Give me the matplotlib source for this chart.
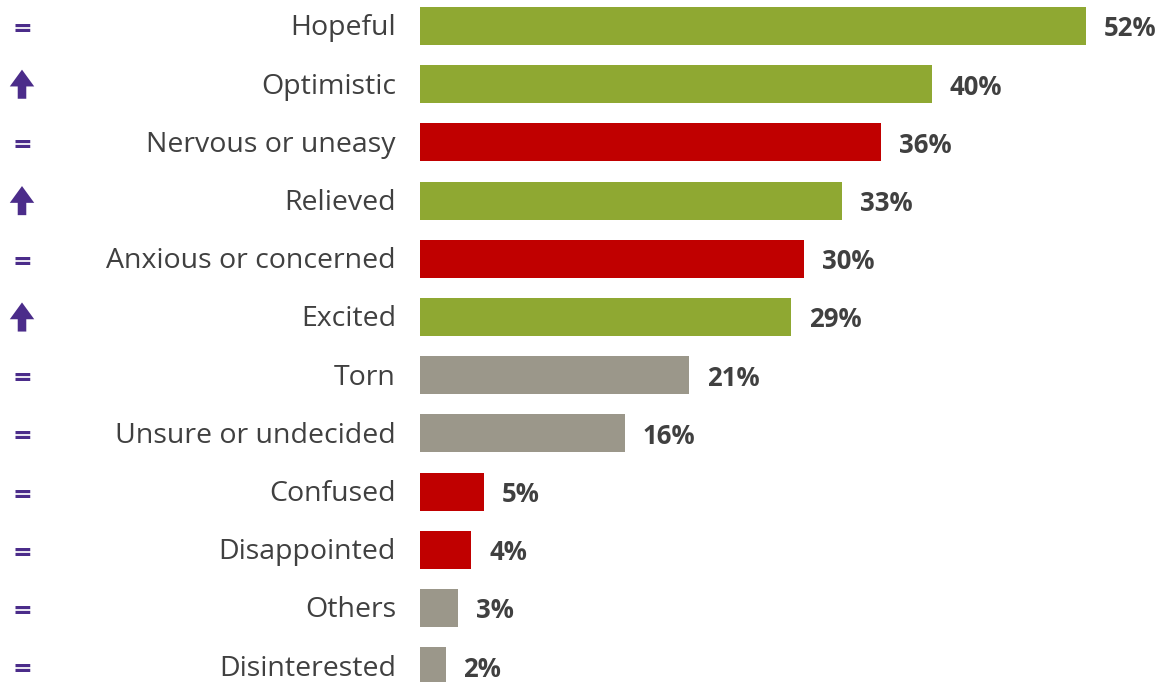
import matplotlib.pyplot as plt
from matplotlib.transforms import blended_transform_factory

# data
labels = ["Hopeful", "Optimistic", "Nervous or uneasy", "Relieved",
          "Anxious or concerned", "Excited", "Torn", "Unsure or undecided",
          "Confused", "Disappointed", "Others", "Disinterested"]
values = [52, 40, 36, 33, 30, 29, 21, 16, 5, 4, 3, 2]
tone = ["pos", "pos", "neg", "pos", "neg", "pos", "neu", "neu",
        "neg", "neg", "neu", "neu"]
trend = ["=", "up", "=", "up", "=", "up", "=", "=", "=", "=", "=", "="]

colors = {"pos": "#8FA832", "neg": "#C00000", "neu": "#9B978A"}
purple = "#4B2C8A"
txt = "#404040"

W, H = 1159, 682
fig = plt.figure(figsize=(W / 100, H / 100), dpi=100)
left = 420 / W
ax = fig.add_axes([left, 0, 1 - left, 1])

step = 58.2
top = 26
ypos = list(range(len(labels)))
ax.barh(ypos, values, height=38 / step,
        color=[colors[t] for t in tone], left=0)
ax.set_xlim(0, (W - 420) / 12.8)
ax.set_ylim((H - top) / step, -top / step)
ax.axis("off")

for y, v in zip(ypos, values):
    ax.text(v + 1.4, y + 0.05, f"{v}%", va="center", ha="left",
            fontsize=18.5, fontweight="bold", color=txt, family="Open Sans")

tr = blended_transform_factory(fig.transFigure, ax.transData)
sx = 22 / W
for y, lab, t in zip(ypos, labels, trend):
    ax.text(396 / W, y + 0.04, lab, transform=tr, ha="right", va="center",
            fontsize=20.5, color=txt, family="Open Sans")
    if t == "=":
        ax.text(sx, y + 0.05, "=", transform=tr, ha="center", va="center",
                fontsize=17, fontweight="bold", color=purple,
                family="DejaVu Sans")
    else:
        ax.annotate("", xy=(sx, y - 0.25), xytext=(sx, y + 0.25),
                    xycoords=tr, textcoords=tr,
                    arrowprops=dict(arrowstyle="simple,head_length=0.55,"
                                    "head_width=0.8,tail_width=0.28",
                                    color=purple, lw=0, mutation_scale=22,
                                    shrinkA=0, shrinkB=0))

fig.savefig("out.png", dpi=100)
